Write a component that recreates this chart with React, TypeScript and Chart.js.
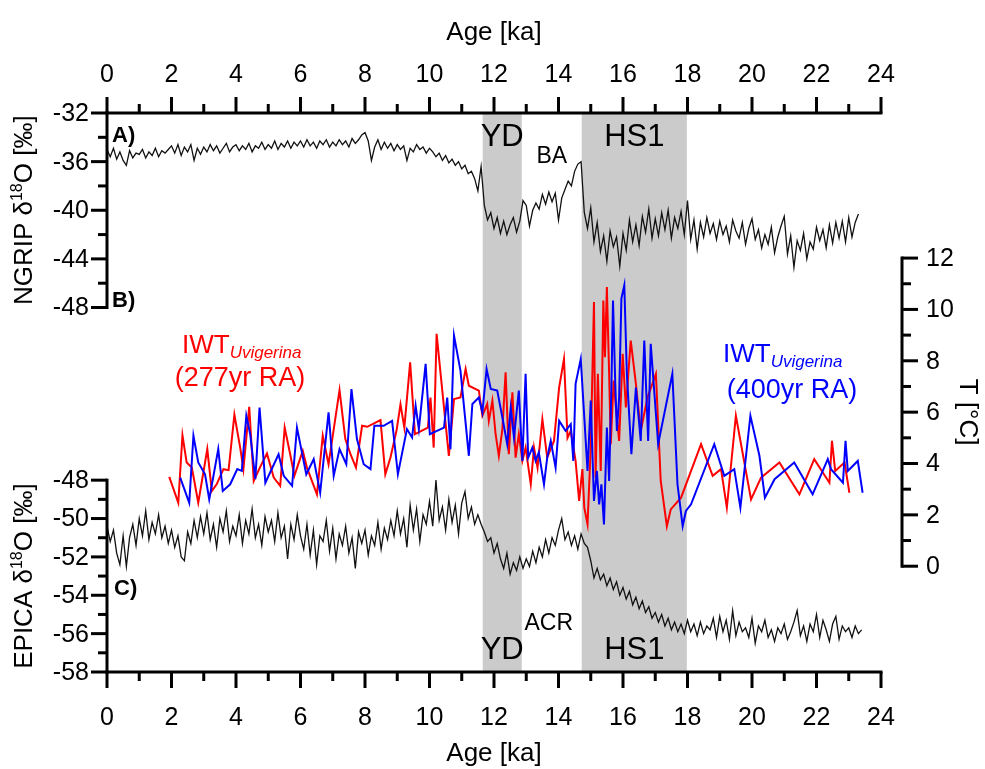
import React, { useEffect, useRef } from 'react';
import { Chart, registerables } from 'chart.js';

Chart.register(...registerables);

// ---------------- DATA ----------------
// Age axis ticks (ka)
const ageMajorTicks = [0, 2, 4, 6, 8, 10, 12, 14, 16, 18, 20, 22, 24];
const ageMinorTicks = [1, 3, 5, 7, 9, 11, 13, 15, 17, 19, 21, 23];
// NGRIP axis ticks
const ngripMajorTicks = [-32, -36, -40, -44, -48];
const ngripMinorTicks = [-34, -38, -42, -46];
// EPICA axis ticks
const epicaMajorTicks = [-48, -50, -52, -54, -56, -58];
const epicaMinorTicks = [-49, -51, -53, -55, -57];
// Temperature axis ticks
const tempMajorTicks = [0, 2, 4, 6, 8, 10, 12];
const tempMinorTicks = [1, 3, 5, 7, 9, 11];

// Shaded intervals (YD, HS1)
const bandNames = ['YD', 'HS1'];
const bandStarts = [11.65, 14.72];
const bandEnds = [12.86, 17.98];

// NGRIP d18O, ages from 0.0 ka in 0.1 ka steps
const ngripStartAge = 0;
const ngripStepKa = 0.1;
const ngripD18O = [
  -35.0, -35.6, -34.9, -35.8, -35.2, -35.9, -36.3, -35.1, -35.7, -35.3,
  -35.4, -35.0, -35.7, -35.2, -35.5, -34.9, -35.6, -35.1, -35.3, -35.0,
  -34.7, -35.3, -34.6, -35.5, -34.8, -35.2, -34.6, -35.9, -34.9, -35.4,
  -34.8, -35.2, -34.6, -35.1, -34.7, -35.3, -34.9, -34.5, -35.2, -34.8,
  -34.6, -35.1, -34.7, -35.0, -34.5, -35.2, -34.7, -34.9, -34.4, -35.0,
  -34.6, -34.9, -34.3, -35.0, -34.5, -34.8, -34.3, -34.9, -34.4, -34.7,
  -34.3, -34.8, -34.2, -34.7, -34.4, -34.9, -34.3, -34.6, -34.2, -34.8,
  -34.4, -34.7, -34.2, -34.6, -34.3, -34.8, -34.1, -34.5, -34.2, -33.8,
  -33.6, -34.3, -35.9, -34.8, -34.2, -35.0, -34.4, -34.9, -34.5, -35.1,
  -34.6, -35.0, -34.7, -35.9, -34.9, -35.2, -34.6, -35.0, -34.8, -35.3,
  -34.9, -35.2, -35.6, -35.3, -35.9, -35.5, -36.1, -35.8, -36.3, -36.0,
  -36.6, -36.3, -37.0, -36.8, -37.4, -38.4, -36.4, -39.6, -40.8, -40.2,
  -41.5, -40.6, -41.9, -40.9, -42.0, -41.2, -40.6, -41.8, -40.9, -39.2,
  -39.6, -41.3, -40.0, -39.4, -39.9, -38.7, -39.5, -38.5, -39.3, -38.6,
  -40.8, -39.0, -38.3, -37.6, -38.0, -36.8, -36.2, -36.0, -40.2, -41.5,
  -39.8, -42.6, -41.0, -43.4, -42.1, -44.2, -41.7, -43.0, -42.2, -44.6,
  -41.9, -43.3, -40.8, -42.6, -41.2, -42.9, -40.5, -41.8, -39.9, -42.3,
  -40.7, -42.1, -40.2, -41.6, -40.0, -42.3, -40.6, -41.5, -40.1, -42.0,
  -39.2, -42.4, -40.8, -43.2, -41.0, -42.2, -40.6, -41.9, -41.1, -42.4,
  -40.9, -42.0, -41.3, -42.6, -40.8, -41.7, -42.3, -41.0, -42.8, -41.5,
  -40.7, -42.4, -41.6, -43.1, -42.0, -42.8, -41.4, -43.5, -42.2, -41.3,
  -40.5, -43.6, -42.1, -44.7, -42.5, -43.3, -41.9, -44.0, -42.6, -43.2,
  -41.4, -42.5, -41.6, -43.1, -41.2, -42.7, -41.0, -42.3, -40.9, -42.6,
  -40.6, -42.2, -41.0, -40.3,
];

// EPICA d18O, ages from 0.0 ka in 0.1 ka steps
const epicaStartAge = 0;
const epicaStepKa = 0.1;
const epicaD18O = [
  -50.4, -51.2, -50.6, -51.8, -52.4, -50.9, -52.5, -51.0, -50.3, -51.4,
  -50.0, -50.9, -49.6, -51.1, -50.2, -50.8, -49.8, -51.0, -50.4, -51.3,
  -50.6, -51.5, -50.9, -52.0, -52.2, -50.7, -51.3, -50.1, -51.0, -49.9,
  -50.8, -49.7, -51.1, -50.3, -51.5, -50.0, -50.7, -49.6, -51.2, -50.4,
  -50.9, -49.8, -51.3, -50.1, -50.8, -49.5, -51.0, -50.3, -51.4, -49.9,
  -50.7, -50.1, -51.2, -49.7, -51.0, -50.4, -52.1, -50.3, -51.1, -49.8,
  -50.9, -51.6, -50.3, -51.9, -50.6, -52.4, -50.9, -51.2, -50.1, -51.7,
  -50.5, -52.1, -50.8, -51.4, -50.4, -51.8, -51.0, -52.6, -50.7, -51.3,
  -50.6, -51.9, -50.9, -51.4, -50.2, -51.6, -50.5, -51.1, -50.1, -50.9,
  -49.6, -50.8, -50.0, -51.5, -49.3, -50.6, -49.5, -51.2, -49.8, -50.3,
  -49.1, -50.4, -48.0, -50.1, -49.4, -50.6, -49.0, -50.2, -49.3, -50.8,
  -49.2, -48.6, -50.0, -49.4, -50.3, -49.8, -50.3, -50.7, -51.2, -51.0,
  -51.8, -51.3, -52.1, -52.6, -51.8, -52.9, -52.3, -52.7, -52.0, -52.6,
  -52.1, -52.5, -51.7, -52.3, -51.5, -52.0, -51.1, -51.8, -51.0, -51.4,
  -50.6, -50.0, -51.1, -50.7, -51.4, -50.9, -51.6, -50.8, -51.3, -51.5,
  -52.2, -53.1, -52.6, -53.2, -52.9, -53.5, -53.1, -53.7, -53.3, -54.0,
  -53.6, -54.2, -53.8, -54.5, -54.1, -54.7, -54.3, -54.9, -54.6, -55.2,
  -54.9, -55.4, -55.0, -55.6, -55.2, -55.8, -55.4, -55.9, -55.5, -56.0,
  -55.3, -55.9, -55.5, -56.1, -55.4, -56.0, -55.6, -55.8, -55.2, -56.2,
  -55.1, -55.9, -55.3, -56.3, -54.8, -56.1, -55.4, -55.9, -55.7, -56.2,
  -55.2, -56.5, -55.6, -55.9, -55.3, -56.2, -55.8, -56.4, -55.7, -56.0,
  -55.5, -56.3, -55.9, -55.4, -54.8, -56.1, -55.6, -56.4, -55.5, -55.9,
  -55.0, -56.2, -55.3, -55.8, -56.4, -55.5, -55.1, -56.3, -55.6, -55.9,
  -55.7, -56.2, -55.6, -56.0, -55.8,
];

// IWT Uvigerina, 277 yr running average (red)
const iwt277Age = [
  1.93, 2.21, 2.34, 2.47, 2.63, 2.83, 3.11, 3.25, 3.40, 3.61,
  3.77, 3.95, 4.13, 4.23, 4.41, 4.55, 4.75, 4.96, 5.17, 5.37,
  5.51, 5.68, 5.81, 6.07, 6.20, 6.51, 6.69, 6.87, 7.21, 7.39,
  7.55, 7.72, 7.91, 8.07, 8.48, 8.63, 8.79, 8.98, 9.10, 9.22,
  9.40, 9.55, 9.95, 10.03, 10.13, 10.22, 10.60, 10.76, 10.96, 11.12,
  11.22, 11.53, 11.64, 11.79, 11.84, 11.95, 12.05, 12.15, 12.26, 12.36,
  12.46, 12.57, 12.67, 12.77, 12.88, 12.98, 13.14, 13.24, 13.35, 13.50,
  13.65, 13.86, 14.02, 14.17, 14.28, 14.38, 14.53, 14.64, 14.74, 14.80,
  14.90, 15.00, 15.10, 15.15, 15.22, 15.31, 15.39, 15.44, 15.50, 15.57,
  15.62, 15.71, 15.78, 15.88, 15.99, 16.09, 16.24, 16.40, 16.55, 16.76,
  17.02, 17.17, 17.36, 17.48, 17.80, 18.42, 18.78, 19.04, 19.22, 19.50,
  19.97, 20.28, 20.85, 21.47, 21.93, 22.40, 22.48, 22.58, 22.87, 23.02,
];
const iwt277Temp = [
  3.48, 2.47, 5.10, 4.04, 3.84, 2.47, 4.56, 2.93, 3.19, 3.78,
  3.74, 5.90, 4.62, 3.78, 6.21, 3.32, 3.87, 4.39, 3.45, 3.13,
  5.40, 4.36, 3.52, 4.49, 3.84, 2.80, 5.08, 3.97, 6.86, 4.95,
  4.36, 3.84, 5.47, 5.43, 5.69, 3.58, 4.23, 5.30, 6.30, 5.40,
  7.94, 5.14, 5.40, 6.57, 4.62, 9.05, 4.30, 6.51, 6.57, 7.68,
  7.03, 6.84, 5.86, 6.32, 5.66, 6.45, 5.14, 4.30, 5.34, 7.55,
  4.36, 6.77, 4.23, 5.14, 4.10, 4.62, 3.19, 4.62, 3.84, 5.73,
  4.23, 4.88, 6.96, 8.07, 5.00, 5.27, 4.10, 2.54, 3.78, 2.28,
  1.63, 4.62, 10.29, 3.45, 7.49, 3.71, 10.35, 8.14, 10.87, 7.49,
  4.75, 7.23, 6.18, 4.88, 8.27, 6.18, 8.79, 7.10, 5.27, 6.57,
  7.49, 3.32, 1.56, 2.21, 2.67, 4.75, 3.52, 3.78, 2.28, 5.86,
  2.60, 3.45, 4.04, 2.80, 4.17, 3.25, 4.88, 3.71, 4.04, 2.86,
];

// IWT Uvigerina, 400 yr running average (blue)
const iwt400Age = [
  2.27, 2.55, 2.68, 2.83, 3.04, 3.17, 3.45, 3.59, 3.82, 4.04,
  4.18, 4.32, 4.44, 4.60, 4.73, 4.91, 5.32, 5.48, 5.74, 5.89,
  6.18, 6.41, 6.61, 6.87, 7.03, 7.21, 7.42, 7.58, 7.75, 7.96,
  8.17, 8.29, 8.58, 8.84, 9.02, 9.30, 9.46, 9.57, 9.67, 9.88,
  10.01, 10.45, 10.55, 10.65, 10.76, 10.96, 11.22, 11.33, 11.53, 11.64,
  11.77, 11.90, 12.10, 12.26, 12.41, 12.52, 12.62, 12.77, 12.88, 12.98,
  13.06, 13.19, 13.29, 13.39, 13.55, 13.65, 13.76, 13.91, 14.02, 14.22,
  14.38, 14.46, 14.53, 14.69, 14.80, 14.90, 15.00, 15.10, 15.19, 15.26,
  15.33, 15.41, 15.50, 15.57, 15.64, 15.69, 15.76, 15.81, 15.88, 15.95,
  16.04, 16.12, 16.26, 16.40, 16.55, 16.66, 16.78, 16.86, 17.09, 17.53,
  17.69, 17.85, 17.95, 18.11, 18.83, 19.14, 19.45, 19.64, 19.95, 20.23,
  20.40, 20.70, 21.31, 21.88, 22.35, 22.45, 22.82, 22.90, 22.97, 23.28,
  23.43,
];
const iwt400Temp = [
  3.45, 2.47, 5.08, 4.04, 3.58, 2.60, 4.56, 2.93, 3.19, 3.78,
  3.71, 5.86, 5.14, 3.39, 6.18, 3.25, 4.36, 3.52, 3.13, 5.40,
  3.58, 4.17, 2.86, 5.99, 3.52, 4.56, 3.97, 6.90, 4.95, 3.97,
  3.78, 5.47, 5.47, 5.66, 3.58, 5.34, 5.01, 6.25, 5.34, 7.88,
  5.14, 5.40, 6.57, 4.56, 8.98, 7.62, 4.30, 6.32, 6.57, 5.99,
  7.68, 6.90, 6.84, 5.79, 4.75, 6.18, 5.01, 6.84, 4.10, 7.49,
  4.23, 4.62, 4.10, 4.43, 3.19, 4.23, 4.88, 3.84, 5.66, 5.27,
  5.53, 4.10, 7.10, 8.07, 5.79, 3.71, 6.45, 2.54, 3.71, 2.41,
  3.19, 1.63, 5.40, 3.32, 6.96, 10.35, 7.10, 5.27, 6.57, 10.42,
  10.94, 7.49, 4.36, 6.96, 4.88, 8.79, 4.88, 8.66, 4.75, 7.49,
  3.19, 1.56, 2.15, 2.41, 4.75, 3.52, 3.78, 2.28, 5.86, 4.30,
  2.67, 3.39, 4.04, 2.80, 4.17, 3.78, 3.25, 4.88, 3.71, 4.10,
  2.86,
];

// ---------------- STYLE ----------------
const FONT = '"Liberation Sans", Arial, Helvetica, sans-serif';
const BAND_COLOR = '#cbcbcb';
const RED = '#ff0000';
const BLUE = '#0000ff';
const MAJOR = 16;
const MINOR = 9;

type Seg = { t: string; font: string; dy?: number };

function drawRich(ctx: CanvasRenderingContext2D, segs: Seg[], x: number, y: number,
  align: 'left' | 'center', rot: number, color: string) {
  ctx.save();
  ctx.translate(x, y);
  ctx.rotate(rot);
  ctx.fillStyle = color;
  ctx.textBaseline = 'alphabetic';
  ctx.textAlign = 'left';
  let total = 0;
  const widths = segs.map((s) => {
    ctx.font = s.font;
    const w = ctx.measureText(s.t).width;
    total += w;
    return w;
  });
  let cx = align === 'center' ? -total / 2 : 0;
  segs.forEach((s, i) => {
    ctx.font = s.font;
    ctx.fillText(s.t, cx, s.dy || 0);
    cx += widths[i];
  });
  ctx.restore();
}

const bandPlugin = {
  id: 'bands',
  beforeDatasetsDraw(chart: any) {
    const { ctx, chartArea: a, scales } = chart;
    const xs = scales.x;
    ctx.save();
    ctx.fillStyle = BAND_COLOR;
    for (let i = 0; i < bandStarts.length; i++) {
      const x0 = xs.getPixelForValue(bandStarts[i]);
      const x1 = xs.getPixelForValue(bandEnds[i]);
      ctx.fillRect(x0, a.top, x1 - x0, a.bottom - a.top);
    }
    ctx.restore();
  },
};

const axesPlugin = {
  id: 'paleoAxes',
  afterDatasetsDraw(chart: any) {
    const { ctx, chartArea: a, scales } = chart;
    const xs = scales.x;
    const yn = scales.yNG;
    const ye = scales.yEP;
    const yt = scales.yT;
    const tX = a.right + 21;
    ctx.save();
    ctx.strokeStyle = '#000';
    ctx.fillStyle = '#000';
    ctx.lineCap = 'butt';

    const seg = (x0: number, y0: number, x1: number, y1: number, w: number) => {
      ctx.lineWidth = w;
      ctx.beginPath();
      ctx.moveTo(x0, y0);
      ctx.lineTo(x1, y1);
      ctx.stroke();
    };

    // top & bottom axis lines
    seg(a.left - 1.5, a.top, a.right + 1.5, a.top, 3);
    seg(a.left - 1.5, a.bottom, a.right + 1.5, a.bottom, 3);
    // NGRIP axis line
    seg(a.left, yn.getPixelForValue(-32) - 1.5, a.left, yn.getPixelForValue(-48) + 1.5, 3);
    // EPICA axis line
    seg(a.left, ye.getPixelForValue(-48) - 1.5, a.left, ye.getPixelForValue(-58) + 1.5, 3);
    // T axis line
    seg(tX, yt.getPixelForValue(12) - 1.5, tX, yt.getPixelForValue(0) + 1.5, 3);

    ctx.font = `25px ${FONT}`;
    // Age ticks
    ageMajorTicks.forEach((v) => {
      const x = xs.getPixelForValue(v);
      seg(x, a.top, x, a.top - MAJOR, 3);
      seg(x, a.bottom, x, a.bottom + MAJOR, 3);
      ctx.textAlign = 'center';
      ctx.textBaseline = 'middle';
      ctx.fillText(String(v), x, a.top - 38);
      ctx.fillText(String(v), x, a.bottom + 46);
    });
    ageMinorTicks.forEach((v) => {
      const x = xs.getPixelForValue(v);
      seg(x, a.top, x, a.top - MINOR, 3);
      seg(x, a.bottom, x, a.bottom + MINOR, 3);
    });
    // NGRIP ticks
    ctx.textAlign = 'right';
    ctx.textBaseline = 'middle';
    ngripMajorTicks.forEach((v) => {
      const y = yn.getPixelForValue(v);
      seg(a.left, y, a.left - MAJOR, y, 3);
      ctx.fillText(String(v), a.left - 18, y + 1);
    });
    ngripMinorTicks.forEach((v) => {
      const y = yn.getPixelForValue(v);
      seg(a.left, y, a.left - MINOR, y, 3);
    });
    // EPICA ticks
    epicaMajorTicks.forEach((v) => {
      const y = ye.getPixelForValue(v);
      seg(a.left, y, a.left - MAJOR, y, 3);
      ctx.fillText(String(v), a.left - 18, y + 1);
    });
    epicaMinorTicks.forEach((v) => {
      const y = ye.getPixelForValue(v);
      seg(a.left, y, a.left - MINOR, y, 3);
    });
    // T ticks
    ctx.textAlign = 'left';
    tempMajorTicks.forEach((v) => {
      const y = yt.getPixelForValue(v);
      seg(tX, y, tX + MAJOR, y, 3);
      ctx.fillText(String(v), tX + 24, y + 1);
    });
    tempMinorTicks.forEach((v) => {
      const y = yt.getPixelForValue(v);
      seg(tX, y, tX + MINOR, y, 3);
    });

    // Axis titles
    const tf = `26px ${FONT}`;
    const sf = `16px ${FONT}`;
    const midX = (a.left + a.right) / 2;
    drawRich(ctx, [{ t: 'Age [ka]', font: tf }], midX, 40, 'center', 0, '#000');
    drawRich(ctx, [{ t: 'Age [ka]', font: tf }], midX, 761, 'center', 0, '#000');
    const ngMid = (yn.getPixelForValue(-32) + yn.getPixelForValue(-48)) / 2;
    const epMid = (ye.getPixelForValue(-48) + ye.getPixelForValue(-58)) / 2;
    drawRich(ctx, [
      { t: 'NGRIP \u03b4', font: tf },
      { t: '18', font: sf, dy: -10 },
      { t: 'O [\u2030]', font: tf },
    ], 32, ngMid, 'center', -Math.PI / 2, '#000');
    drawRich(ctx, [
      { t: 'EPICA \u03b4', font: tf },
      { t: '18', font: sf, dy: -10 },
      { t: 'O [\u2030]', font: tf },
    ], 32, epMid, 'center', -Math.PI / 2, '#000');
    const tMid = (yt.getPixelForValue(0) + yt.getPixelForValue(12)) / 2;
    drawRich(ctx, [{ t: 'T [\u00b0C]', font: tf }], 960, tMid, 'center', Math.PI / 2, '#000');

    // Panel letters
    const bf = `bold 22px ${FONT}`;
    drawRich(ctx, [{ t: 'A)', font: bf }], a.left + 5, 142, 'left', 0, '#000');
    drawRich(ctx, [{ t: 'B)', font: bf }], a.left + 5, 307, 'left', 0, '#000');
    drawRich(ctx, [{ t: 'C)', font: bf }], a.left + 7, 595, 'left', 0, '#000');

    // Event labels
    const bigF = `31px ${FONT}`;
    const midF = `23px ${FONT}`;
    for (let i = 0; i < bandNames.length; i++) {
      const cx = xs.getPixelForValue((bandStarts[i] + bandEnds[i]) / 2);
      drawRich(ctx, [{ t: bandNames[i], font: bigF }], cx, 146, 'center', 0, '#000');
      drawRich(ctx, [{ t: bandNames[i], font: bigF }], cx, 659, 'center', 0, '#000');
    }
    const baX = xs.getPixelForValue((bandEnds[0] + bandStarts[1]) / 2);
    drawRich(ctx, [{ t: 'BA', font: midF }], baX, 163, 'center', 0, '#000');
    drawRich(ctx, [{ t: 'ACR', font: midF }], baX - 3, 630, 'center', 0, '#000');

    // Series labels
    const lf = `26px ${FONT}`;
    const subF = `italic 17px ${FONT}`;
    drawRich(ctx, [
      { t: 'IWT', font: lf },
      { t: 'Uvigerina', font: subF, dy: 5 },
    ], 182, 353, 'left', 0, RED);
    drawRich(ctx, [{ t: '(277yr RA)', font: `27px ${FONT}` }], 240, 386, 'center', 0, RED);
    drawRich(ctx, [
      { t: 'IWT', font: lf },
      { t: 'Uvigerina', font: subF, dy: 5 },
    ], 723, 362, 'left', 0, BLUE);
    drawRich(ctx, [{ t: '(400yr RA)', font: `27px ${FONT}` }], 792, 398, 'center', 0, BLUE);

    ctx.restore();
  },
};

export default function App() {
  const canvasRef = useRef<HTMLCanvasElement | null>(null);

  useEffect(() => {
    const canvas = canvasRef.current;
    if (!canvas) return;
    const ngripData = ngripD18O.map((v, i) => ({ x: ngripStartAge + i * ngripStepKa, y: v }));
    const epicaData = epicaD18O.map((v, i) => ({ x: epicaStartAge + i * epicaStepKa, y: v }));
    const redData = iwt277Age.map((a, i) => ({ x: a, y: iwt277Temp[i] }));
    const blueData = iwt400Age.map((a, i) => ({ x: a, y: iwt400Temp[i] }));

    const chart = new Chart(canvas, {
      type: 'line',
      data: {
        datasets: [
          { label: 'IWT 400yr RA', data: blueData, yAxisID: 'yT', borderColor: BLUE, borderWidth: 2, pointRadius: 0, tension: 0, order: 0 },
          { label: 'IWT 277yr RA', data: redData, yAxisID: 'yT', borderColor: RED, borderWidth: 2, pointRadius: 0, tension: 0, order: 1 },
          { label: 'NGRIP', data: ngripData, yAxisID: 'yNG', borderColor: '#111111', borderWidth: 1.3, pointRadius: 0, tension: 0, order: 2 },
          { label: 'EPICA', data: epicaData, yAxisID: 'yEP', borderColor: '#111111', borderWidth: 1.3, pointRadius: 0, tension: 0, order: 3 },
        ],
      },
      options: {
        responsive: false,
        animation: false,
        devicePixelRatio: 1,
        layout: { padding: { left: 107, right: 104, top: 113, bottom: 97 } },
        plugins: { legend: { display: false }, tooltip: { enabled: false } },
        scales: {
          x: { type: 'linear', min: 0, max: 24, display: false },
          yNG: { type: 'linear', min: -77.98, max: -32, display: false },
          yEP: { type: 'linear', min: -58, max: -28.86, display: false },
          yT: { type: 'linear', min: -4.12, max: 17.65, display: false },
        },
      },
      plugins: [bandPlugin, axesPlugin],
    });
    return () => chart.destroy();
  }, []);

  return (
    <div style={{ position: 'fixed', left: 0, top: 0, width: 985, height: 769, background: '#fff' }}>
      <canvas ref={canvasRef} width={985} height={769} style={{ display: 'block' }} />
    </div>
  );
}
